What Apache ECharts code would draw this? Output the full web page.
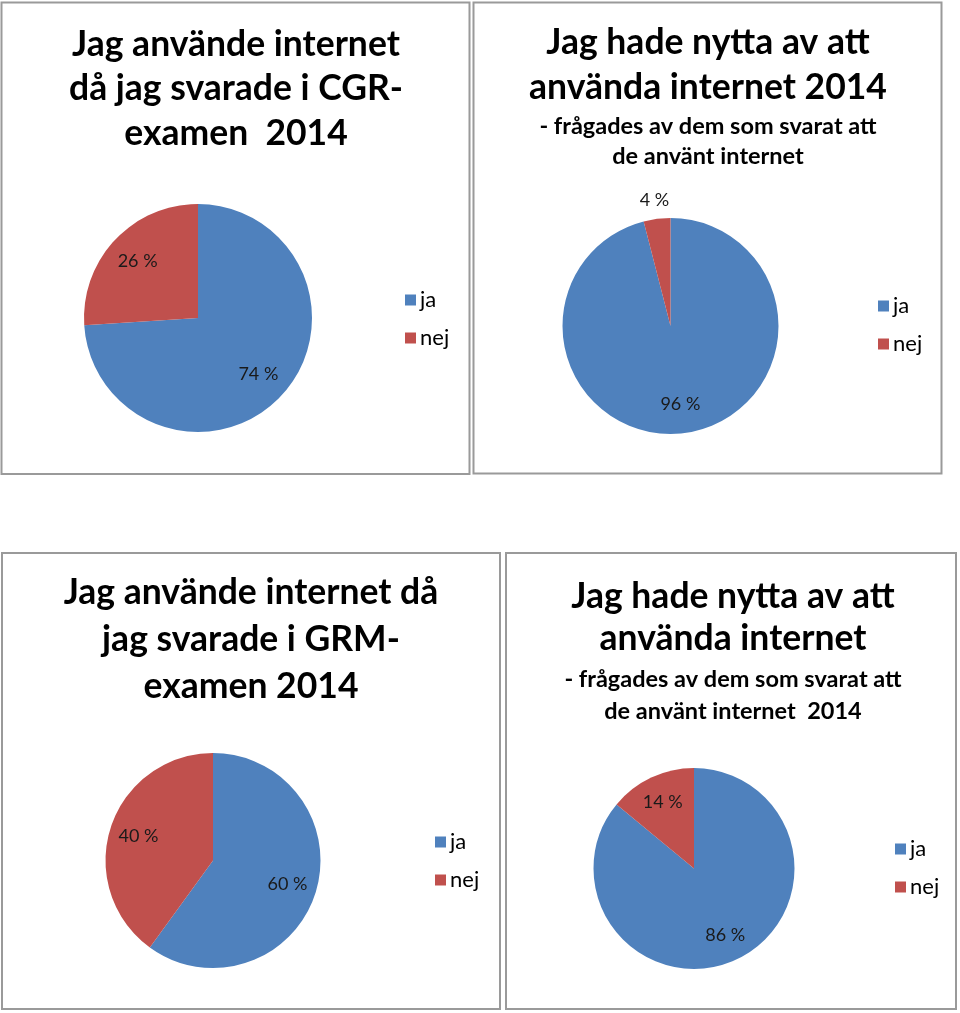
<!DOCTYPE html>
<html><head><meta charset="utf-8">
<script src="https://cdn.jsdelivr.net/npm/echarts@6/dist/echarts.min.js"></script>
<style>html,body{margin:0;padding:0;background:#fff}#c{width:960px;height:1013px}</style>
</head><body><div id="c"></div>
<script>
// Data
const categories = ['ja', 'nej'];
const cgr2014 = [74, 26];        // Jag använde internet då jag svarade i CGR-examen 2014
const nyttaCgr2014 = [96, 4];    // Jag hade nytta av att använda internet 2014
const grm2014 = [60, 40];        // Jag använde internet då jag svarade i GRM-examen 2014
const nyttaGrm2014 = [86, 14];   // Jag hade nytta av att använda internet (GRM) 2014

const titles = [
  'Jag använde internet\ndå jag svarade i CGR-\nexamen  2014',
  'Jag hade nytta av att\nanvända internet 2014',
  'Jag använde internet då\njag svarade i GRM-\nexamen 2014',
  'Jag hade nytta av att\nanvända internet'
];
const subtitles = [
  '',
  '- frågades av dem som svarat att\nde använt internet',
  '',
  '- frågades av dem som svarat att\nde använt internet  2014'
];

const BLUE = '#4F81BD', RED = '#C0504D';
const FONT = 'Lato, "Open Sans", sans-serif';

const panels = [
  {box:[1.5,2.5,468,471.5], values:cgr2014, title:{x:236,y:22,size:35.5,lh:44.5,gap:0,slh:30}, center:[198,318], r:114, legend:[405,288], outside:[]},
  {box:[473.5,2.5,468,471], values:nyttaCgr2014, title:{x:708,y:20.5,size:35.5,lh:45,gap:1.5,slh:29.5}, center:[670.5,326], r:108, legend:[878,294], outside:[1]},
  {box:[2,553,498,456], values:grm2014, title:{x:251,y:569.5,size:35.5,lh:47,gap:0,slh:30}, center:[213,860.5], r:107.5, legend:[435,830], outside:[]},
  {box:[506,553,450,456], values:nyttaGrm2014, title:{x:733,y:576,size:35.5,lh:42,gap:3,slh:32}, center:[694,868.5], r:100.5, legend:[895,837], outside:[]}
];

function mkData(vals){ return categories.map((c,i)=>({name:c, value:vals[i]})); }

const labelStyle = {formatter:'{c} %', fontFamily:FONT, fontSize:18, color:'#1a1a1a'};

const option = {
  animation:false,
  color:[BLUE, RED],
  graphic: panels.map(p=>({type:'rect', shape:{x:p.box[0],y:p.box[1],width:p.box[2],height:p.box[3]},
    style:{fill:'#fff', stroke:'#9a9a9a', lineWidth:2}, z:-10})),
  title: panels.map((p,i)=>({
    text:titles[i], subtext:subtitles[i], left:p.title.x, top:p.title.y, textAlign:'center', padding:0,
    itemGap:p.title.gap,
    textStyle:{fontFamily:FONT, fontWeight:'bold', fontSize:p.title.size, lineHeight:p.title.lh, color:'#000'},
    subtextStyle:{fontFamily:FONT, fontWeight:'bold', fontSize:23.5, lineHeight:p.title.slh, color:'#000'}
  })),
  legend: panels.map(p=>({
    data:categories, orient:'vertical', left:p.legend[0], top:p.legend[1], padding:0,
    icon:'rect', itemWidth:11, itemHeight:11, itemGap:14, selectedMode:false,
    textStyle:{fontFamily:FONT, fontSize:22, lineHeight:24, color:'#000', padding:[0,0,0,-1]}
  })),
  series: []
};

panels.forEach((p,i)=>{
  // visible pie
  option.series.push({type:'pie', center:p.center, radius:[0,p.r], startAngle:90, clockwise:true,
    data:mkData(p.values), label:{show:false}, labelLine:{show:false}, silent:true,
    itemStyle:{borderWidth:0}});
  // transparent pie carrying the inside labels (~0.7 r)
  option.series.push({type:'pie', center:p.center, radius:[p.r*0.4,p.r], startAngle:90, clockwise:true,
    data:mkData(p.values).map((d,k)=>Object.assign(d,{label:{show: p.outside.indexOf(k)<0}})),
    itemStyle:{color:'rgba(0,0,0,0)'}, silent:true, labelLine:{show:false}, legendHoverLink:false,
    label:Object.assign({position:'inside'}, labelStyle)});
  if (p.outside.length){
    option.series.push({type:'pie', center:p.center, radius:[p.r,p.r*1.3], startAngle:90, clockwise:true,
      data:mkData(p.values).map((d,k)=>Object.assign(d,{label:{show: p.outside.indexOf(k)>=0}})),
      itemStyle:{color:'rgba(0,0,0,0)'}, silent:true, labelLine:{show:false}, legendHoverLink:false,
      label:Object.assign({position:'inside'}, labelStyle)});
  }
});

const chart = echarts.init(document.getElementById('c'), null, {renderer:'canvas'});
chart.setOption(option);
</script></body></html>
